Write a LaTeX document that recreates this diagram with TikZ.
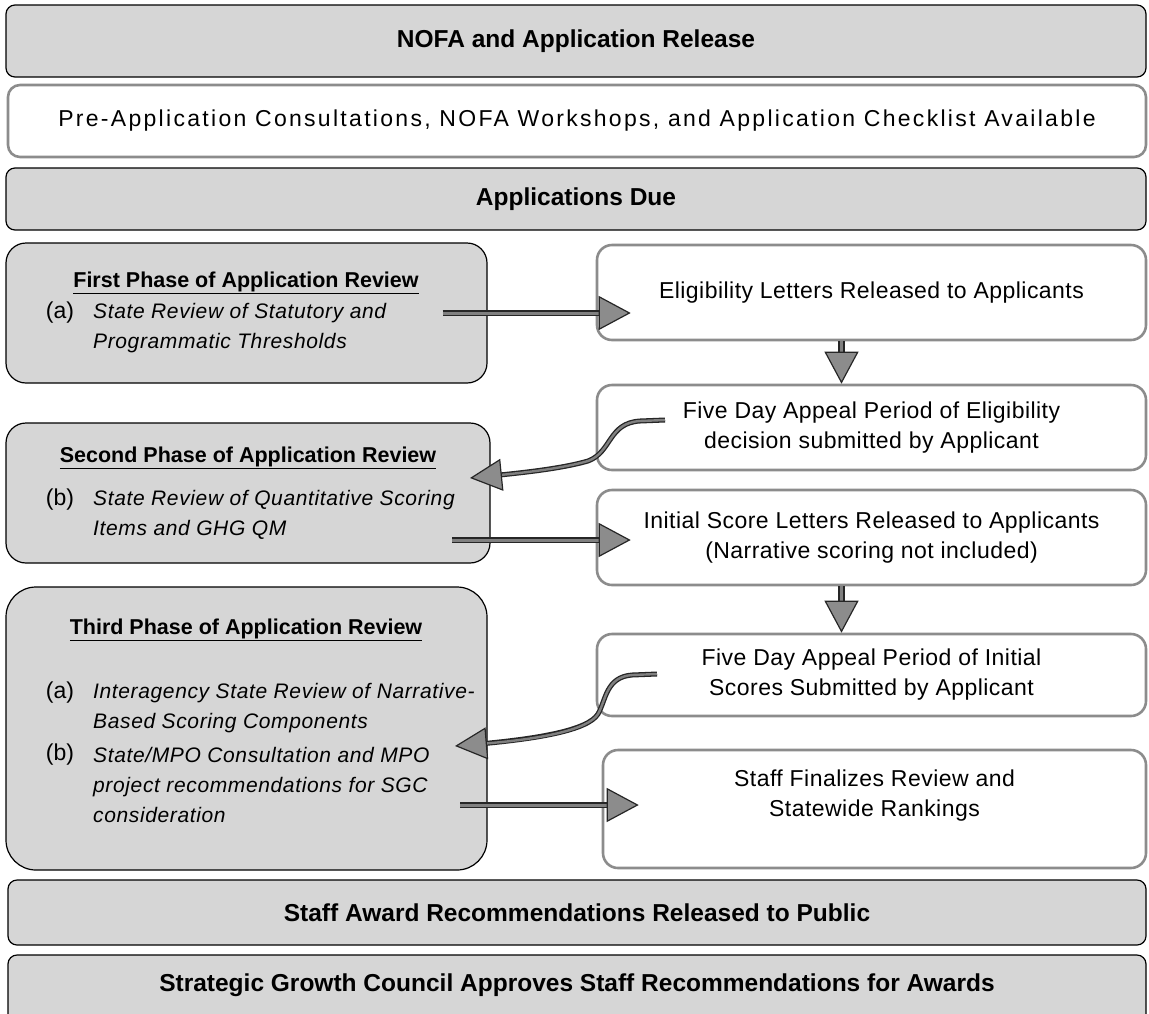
\documentclass[tikz,border=0pt]{standalone}
\usepackage{fontspec}
\setmainfont{Liberation Sans}
\newfontfamily\prefont[LetterSpace=10.0]{Liberation Sans}
\newfontfamily\stagefont[LetterSpace=2.0]{Liberation Sans}
\newfontfamily\itemfont[LetterSpace=3.0]{Liberation Sans}
\usetikzlibrary{arrows.meta}

\tikzset{
  bar/.style={draw=black, line width=1.2pt, fill=black!16, rounded corners=9pt,
    font=\fontsize{24.5}{28}\selectfont\bfseries},
  openbar/.style={draw=black!45, line width=2.6pt, fill=white, rounded corners=12pt},
  phase/.style={draw=black, line width=1.2pt, fill=black!16},
  stagebox/.style={draw=black!45, line width=2.6pt, fill=white, rounded corners=15pt,
    align=center, font=\stagefont\fontsize{23}{30}\selectfont},
  phasetitle/.style={font=\fontsize{21.5}{24}\selectfont\bfseries},
  tag/.style={font=\fontsize{23}{26}\selectfont, inner sep=0pt},
  item/.style={align=left, inner sep=0pt, font=\itemfont\itshape\fontsize{21}{30}\selectfont},
  flow/.style={line width=3pt, draw=black!50,
    preaction={draw=black!85, line width=6.5pt, -, shorten >=14pt},
    -{Triangle[length=32pt, width=34pt, line width=1.2pt, color=black!85, fill=black!45]}},
  appeal/.style={line width=2.4pt, draw=black!50,
    preaction={draw=black!85, line width=5pt, -, shorten >=14pt},
    -{Triangle[length=32pt, width=32pt, line width=1.2pt, color=black!85, fill=black!45]}},
}

\begin{document}
\begin{tikzpicture}[x=1pt, y=-1pt]
    \useasboundingbox (0,0) rectangle (1149,1013);

    % Full-width stages at the top
    \node[bar, minimum width=1140pt, minimum height=72pt] (nofa) at (576,41) {NOFA and Application Release};
    \node[openbar, minimum width=1138pt, minimum height=72pt, font=\prefont\fontsize{23}{26}\selectfont] (pre) at (577,121)
        {Pre-Application Consultations, NOFA Workshops, and Application Checklist Available};
    \node[bar, minimum width=1140pt, minimum height=62pt] (due) at (576,199) {Applications Due};

    % Review phases (left column)
    \node[phase, rounded corners=20pt, minimum width=481pt, minimum height=140pt] (p1) at (246.5,313) {};
    \node[phase, rounded corners=20pt, minimum width=484pt, minimum height=140pt] (p2) at (248,493) {};
    \node[phase, rounded corners=30pt, minimum width=481pt, minimum height=283pt] (p3) at (246.5,728.5) {};

    \node[phasetitle] (p1title) at (246,283) {\underline{First Phase of Application Review}};
    \node[tag] (p1tag) at (60,313) {(a)};
    \node[item, anchor=west] (p1item) at (93,328) {State Review of Statutory and\\Programmatic Thresholds};

    \node[phasetitle] (p2title) at (248,458) {\underline{Second Phase of Application Review}};
    \node[tag] (p2tag) at (60,500) {(b)};
    \node[item, anchor=west] (p2item) at (93,515) {State Review of Quantitative Scoring\\Items and GHG QM};

    \node[phasetitle] (p3title) at (246,630) {\underline{Third Phase of Application Review}};
    \node[tag] (p3taga) at (60,693) {(a)};
    \node[item, anchor=west] (p3itema) at (93,708) {Interagency State Review of Narrative-\\Based Scoring Components};
    \node[tag] (p3tagb) at (60,755) {(b)};
    \node[item, anchor=west] (p3itemb) at (93,785) {State/MPO Consultation and MPO\\project recommendations for SGC\\consideration};

    % Letters and appeals (right column)
    \node[stagebox, minimum width=549pt, minimum height=95pt] (e1) at (871.5,292.5) {Eligibility Letters Released to Applicants};
    \node[stagebox, minimum width=549pt, minimum height=85pt] (e2) at (871.5,427.5)
        {Five Day Appeal Period of Eligibility\\decision submitted by Applicant};
    \node[stagebox, minimum width=549pt, minimum height=95pt] (e3) at (871.5,537.5)
        {Initial Score Letters Released to Applicants\\(Narrative scoring not included)};
    \node[stagebox, minimum width=549pt, minimum height=82pt] (e4) at (871.5,675)
        {Five Day Appeal Period of Initial\\Scores Submitted by Applicant};
    \node[stagebox, minimum width=543pt, minimum height=118pt] (e5) at (874.5,809) {};
    \node[align=center, font=\stagefont\fontsize{23}{30}\selectfont] (e5text) at (874.5,796)
        {Staff Finalizes Review and\\Statewide Rankings};

    % Full-width stages at the bottom
    \node[bar, minimum width=1138pt, minimum height=65pt] (award) at (577,912.5) {Staff Award Recommendations Released to Public};
    \node[bar, minimum width=1138pt, minimum height=80pt] (sgc) at (577,995) {};
    \node[font=\fontsize{24.5}{28}\selectfont\bfseries] (sgctext) at (577,985)
        {Strategic Growth Council Approves Staff Recommendations for Awards};

    % Free ends of the connectors
    \coordinate (f2s) at (452,540);
    \coordinate (f3s) at (460,805);
    \coordinate (c1s) at (665,420);
    \coordinate (c1e) at (470,478);
    \coordinate (c2s) at (657,674);
    \coordinate (c2e) at (455,746);

    % Connectors
    \draw[flow] ([xshift=-45pt]p1.east) -- ([xshift=35pt]e1.west |- p1.east);
    \draw[flow] (f2s) -- ([xshift=35pt]e3.west |- f2s);
    \draw[flow] (f3s) -- ([xshift=37pt]e5.west |- f3s);
    \draw[flow] ([xshift=-30pt]e1.south) -- ([xshift=-30pt]e2.north);
    \draw[flow] ([xshift=-30pt]e3.south) -- ([xshift=-30pt]e4.north);
    \draw[appeal] (c1s) -- (640,421) .. controls (608,423) and (612,452) .. (588,461)
        .. controls (560,469) and (520,473) .. (c1e);
    \draw[appeal] (c2s) -- (632,675) .. controls (606,677) and (606,700) .. (598,714)
        .. controls (588,730) and (540,739) .. (c2e);
\end{tikzpicture}
\end{document}
